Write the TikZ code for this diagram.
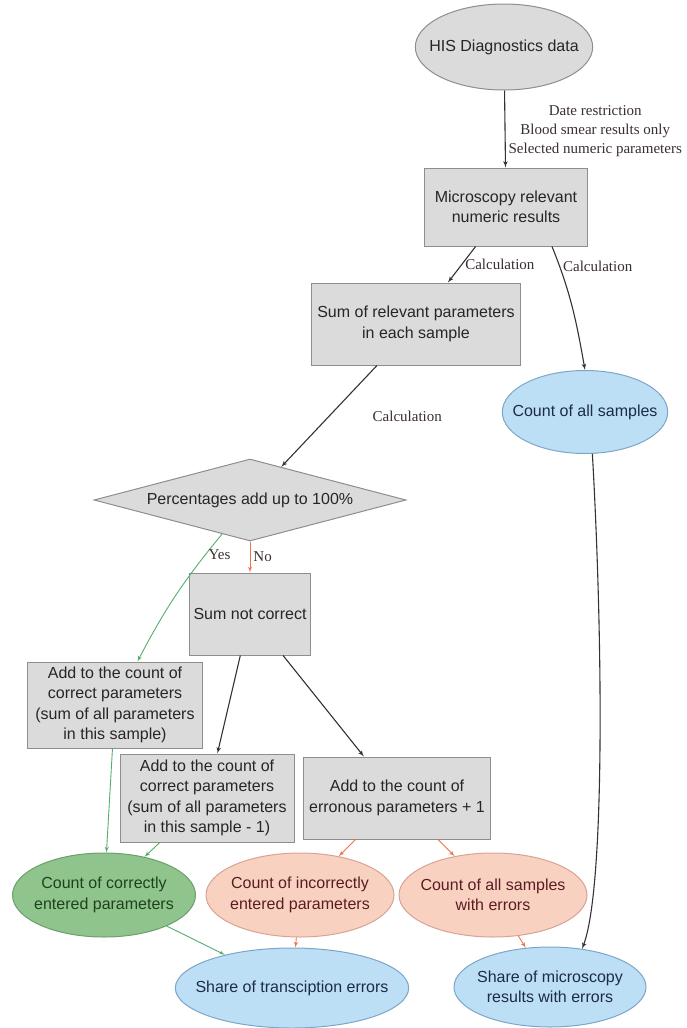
\documentclass[tikz,border=0pt]{standalone}
\usepackage{fontspec}
\setmainfont{Liberation Serif}
\setsansfont{Liberation Sans}
\usetikzlibrary{shapes,arrows}

\definecolor{boxgrey}{HTML}{DCDBDB}
\definecolor{boxline}{HTML}{8E8E8E}
\definecolor{ovalblue}{HTML}{BDDFF5}
\definecolor{blueline}{HTML}{7CA6C8}
\definecolor{bluetext}{HTML}{1C2B48}
\definecolor{ovalgreen}{HTML}{8FC48C}
\definecolor{greenline}{HTML}{6E9F6B}
\definecolor{greentext}{HTML}{1D431D}
\definecolor{ovalred}{HTML}{F9D1C1}
\definecolor{redline}{HTML}{D9A394}
\definecolor{redtext}{HTML}{5A1C22}
\definecolor{okgreen}{HTML}{55AD6C}
\definecolor{errorange}{HTML}{EE7448}
\definecolor{labeltext}{HTML}{3A2E2E}

\begin{document}
\begin{tikzpicture}[auto, >=latex', x=1pt, y=1pt,
  every node/.style={font=\sffamily\fontsize{16}{20.5}\selectfont, text=black!85},
  greybox/.style={rectangle, draw=boxline, fill=boxgrey, line width=1pt, inner sep=0pt, align=center},
  greyoval/.style={ellipse, draw=boxline, fill=boxgrey, line width=1pt, inner xsep=-12pt, inner ysep=0pt, align=center},
  blueoval/.style={ellipse, draw=blueline, fill=ovalblue, line width=1pt, inner xsep=-14pt, inner ysep=0pt, align=center, text=bluetext},
  greenoval/.style={ellipse, draw=greenline, fill=ovalgreen, line width=1pt, inner xsep=-14pt, inner ysep=0pt, align=center, text=greentext, minimum width=183, minimum height=84},
  redoval/.style={ellipse, draw=redline, fill=ovalred, line width=1pt, inner xsep=-14pt, inner ysep=0pt, align=center, text=redtext, minimum width=188, minimum height=84},
  decision/.style={diamond, draw=boxline, fill=boxgrey, line width=1pt, inner sep=0pt, aspect=3.8, minimum width=312, minimum height=82},
  lbl/.style={font=\rmfamily\fontsize{15}{19}\selectfont, text=labeltext, inner sep=3pt},
  flow/.style={->, draw=black!80, line width=1.1pt},
  okline/.style={->, draw=okgreen, line width=0.9pt},
  errline/.style={->, draw=errorange, line width=0.9pt}]
\useasboundingbox (0,0) rectangle (686,-1028);

\node[greyoval, minimum width=164, minimum height=86] (his) at (504,-47) {HIS Diagnostics data};
\node[greybox, minimum width=163, minimum height=78] (micro) at (506,-207) {Microscopy relevant\\numeric results};
\node[greybox, minimum width=209, minimum height=82] (sum) at (416,-324) {Sum of relevant parameters\\in each sample};
\node[blueoval, minimum width=161, minimum height=83] (cntall) at (585,-412) {Count of all samples};
\node[decision] (pct) at (250,-500) {Percentages add up to 100\%};
\node[greybox, minimum width=121, minimum height=82] (notok) at (250,-614) {Sum not correct};
\node[greybox, minimum width=175, minimum height=86] (addok) at (115,-705) {Add to the count of\\correct parameters\\(sum of all parameters\\in this sample)};
\node[greybox, minimum width=174, minimum height=88] (addless) at (207,-798) {Add to the count of\\correct parameters\\(sum of all parameters\\in this sample - 1)};
\node[greybox, minimum width=187, minimum height=82] (adderr) at (397,-798) {Add to the count of\\erronous parameters + 1};
\node[greenoval] (okcount) at (104,-895) {Count of correctly\\entered parameters};
\node[redoval] (errcount) at (300,-895) {Count of incorrectly\\entered parameters};
\node[redoval] (errsamples) at (493,-895) {Count of all samples\\with errors};
\node[blueoval, minimum width=212, minimum height=80] (share) at (292,-988) {Share of transciption errors};
\node[blueoval, minimum width=192, minimum height=80] (sharemic) at (550,-987) {Share of microscopy\\results with errors};

% filters and calculations
\draw[flow] (his) -- node[lbl, right, align=center, pos=.53] {Date restriction\\Blood smear results only\\Selected numeric parameters} (micro);
\draw[flow] (micro) -- node[lbl, right] {Calculation} (sum);
\draw[flow] ([xshift=46]micro.south) to[out=-68, in=100] node[lbl, right, pos=.15] {Calculation} (cntall.north);
\draw[flow] (sum) -- node[lbl, right=40] {Calculation} (pct);

% check of the sum
\draw[errline] (pct) -- node[lbl, right] {No} (notok);
\draw[okline] (pct) to[bend right=6] node[lbl, right, pos=.16] {Yes} (addok);
\draw[flow] (notok) -- (addless);
\draw[flow] (notok) -- (adderr);

% counts
\draw[okline] (addok) -- (okcount);
\draw[okline] (addless) -- (okcount);
\draw[errline] (adderr) -- (errcount);
\draw[errline] (adderr) -- (errsamples);
\draw[okline] (okcount) -- (share);
\draw[errline] (errcount) -- (share);
\draw[errline] (errsamples) -- (sharemic);
\draw[flow] (cntall.-80) .. controls (603,-640) and (605,-890) .. (sharemic.50);
\end{tikzpicture}
\end{document}
